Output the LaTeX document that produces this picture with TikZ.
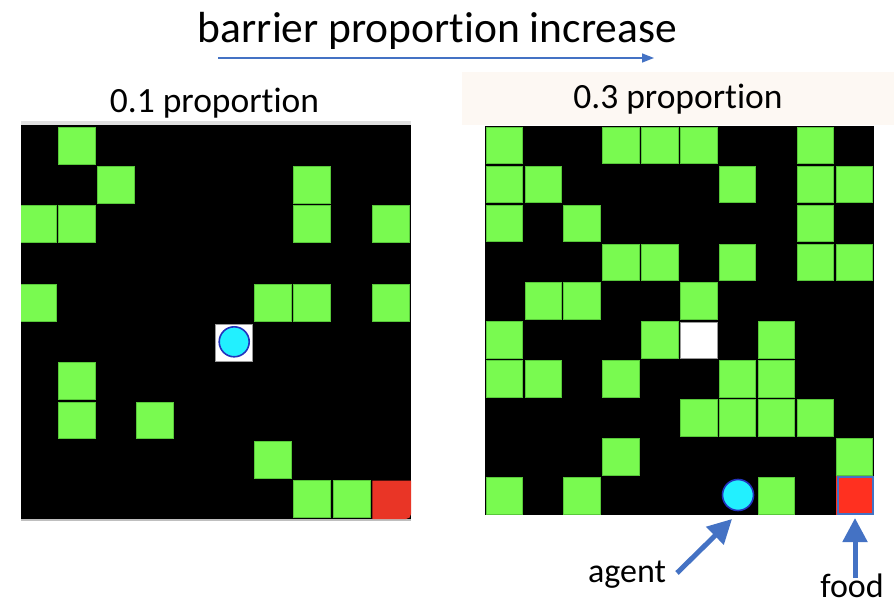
\documentclass[tikz,border=0pt]{standalone}
\usepackage{fontspec}
\setmainfont{Carlito}[Ligatures={NoCommon}]
\usetikzlibrary{arrows.meta}
\definecolor{grn}{RGB}{121,250,80}
\definecolor{grnedge}{RGB}{88,200,58}
\definecolor{redL}{RGB}{233,53,38}
\definecolor{redR}{RGB}{255,48,32}
\definecolor{arrowblue}{RGB}{68,114,196}
\definecolor{cyanagent}{RGB}{34,240,255}
\definecolor{agentedge}{RGB}{34,51,190}
\definecolor{beige}{RGB}{253,248,243}
\tikzset{
  greencell/.style={fill=grn, draw=grnedge, line width=0.8pt},
  agentdot/.style={circle, fill=cyanagent, draw=agentedge, line width=1.6pt, minimum size=30pt, inner sep=0pt},
  bigtext/.style={font=\fontsize{43.5}{50}\selectfont, anchor=base, inner sep=0pt},
  midtext/.style={font=\fontsize{35.5}{42}\selectfont, anchor=base, inner sep=0pt},
  labtext/.style={font=\fontsize{34}{40}\selectfont, anchor=base, inner sep=0pt},
  thinarrow/.style={draw=arrowblue, line width=1.6pt, -{Triangle[length=12pt,width=9pt]}},
  thickarrow/.style={draw=arrowblue, line width=5pt, -{Triangle[length=24pt,width=24pt]}}
}
\begin{document}
\begin{tikzpicture}[x=1pt,y=-1pt]
\useasboundingbox (0,0) rectangle (894,612);
\fill[white] (0,0) rectangle (894,612);

% title and arrow
\node[bigtext] (title) at (437.5,43) {barrier proportion increase};
\coordinate (arrowStart) at (218,58);
\coordinate (arrowEnd) at (654,58);
\draw[thinarrow] (arrowStart) -- (arrowEnd);

% right header band
\fill[beige] (462,72) rectangle (894,125);

% left panel
\node[midtext] (leftTitle) at (214.5,113) {0.1 proportion};
\fill[black!12] (21,121) rectangle (411,125);
\fill[black!25] (21,517) rectangle (411,521);
\fill[black] (21,125) rectangle (411,519);
\begin{scope}
\clip (21,125) rectangle (411,519);
\foreach \c/\r in {1/0, 2/1, 7/1, 0/2, 1/2, 7/2, 9/2, 0/4, 6/4, 7/4, 9/4, 1/6, 1/7, 3/7, 6/8, 7/9, 8/9}
  \filldraw[greencell] ({19+39.25*\c},{127.3+39.25*\r}) rectangle ++(37,36.8);
\fill[redL] ({19+39.25*9},{127.3+39.25*9}) -- (411,{127.3+39.25*9}) [rounded corners=5pt] -- (411,519) [sharp corners] -- ({19+39.25*9},519) -- cycle;
\filldraw[fill=white, draw=black!40, line width=0.6pt] (215.5,324) rectangle (252.5,361.5);
\end{scope}
\node[agentdot] (agentL) at (234.2,341.8) {};

% right panel
\node[midtext] (rightTitle) at (678,109) {0.3 proportion};
\fill[black] (485,126) rectangle (874,515);
\begin{scope}
\clip (485,126) rectangle (874,515);
\foreach \c/\r in {0/0, 3/0, 4/0, 5/0, 8/0,
                   0/1, 1/1, 6/1, 8/1, 9/1,
                   0/2, 2/2, 8/2,
                   3/3, 4/3, 6/3, 8/3, 9/3,
                   1/4, 2/4, 5/4,
                   0/5, 4/5, 7/5,
                   0/6, 1/6, 3/6, 6/6, 7/6,
                   5/7, 6/7, 7/7, 8/7,
                   3/8, 9/8,
                   0/9, 2/9, 7/9}
  \filldraw[greencell] ({486+38.9*\c},{127.3+38.9*\r}) rectangle ++(36.4,36.6);
\filldraw[fill=white, draw=black!40, line width=0.6pt] ({486+38.9*5},{127.3+38.9*5}) rectangle ++(36.4,36.6);
\end{scope}
\fill[redR] (836,475.5) rectangle (874,515);
\draw[arrowblue, line width=2pt] (837.5,476.5) rectangle (873,514);
\coordinate (foodCell) at (855,518);
\node[agentdot, minimum size=31pt] (agentR) at (738,495) {};

% labels with arrows
\node[labtext] (agentLabel) at (627,582) {agent};
\node[labtext] (foodLabel) at (852,597) {food};
\coordinate (agentTail) at (677,573);
\coordinate (agentTip) at (732,519);
\coordinate (foodTail) at (855,578);
\draw[thickarrow] (agentTail) -- (agentTip);
\draw[thickarrow] (foodTail) -- (foodCell);
\end{tikzpicture}
\end{document}
